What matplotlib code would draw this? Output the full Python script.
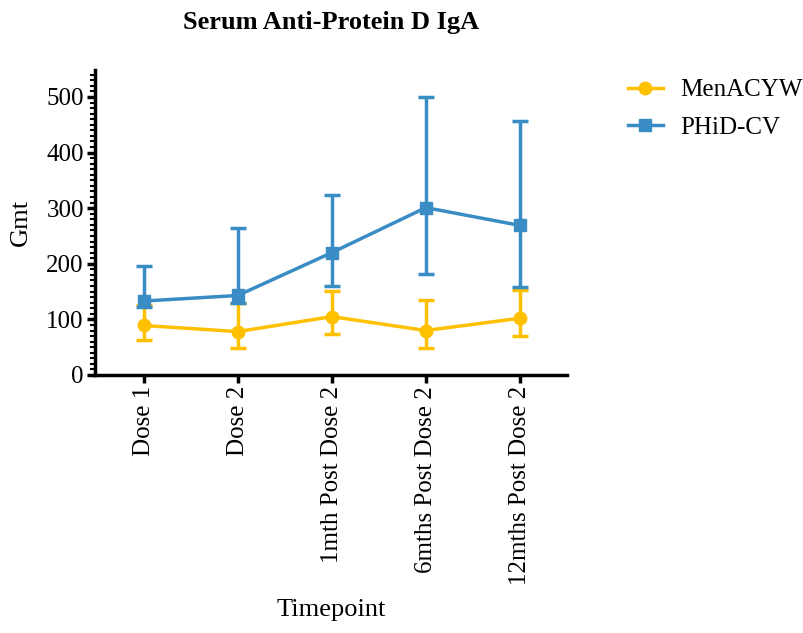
import matplotlib
matplotlib.use('Agg')
import numpy as np
import matplotlib.pyplot as plt
from matplotlib.ticker import MultipleLocator

plt.rcParams.update({
    'font.family': ['Liberation Serif', 'DejaVu Serif'],
    'font.size': 18,
})

timepoints = ['Dose 1', 'Dose 2', '1mth Post Dose 2', '6mths Post Dose 2', '12mths Post Dose 2']

men_gmt = [89, 78, 105, 80, 102]
men_low = [63, 48, 74, 48, 70]
men_high = [126, 129, 151, 134, 153]

phid_gmt = [133, 143, 220, 301, 269]
phid_low = [123, 130, 160, 181, 159]
phid_high = [196, 264, 323, 500, 457]

men_color = '#FFC000'
phid_color = '#3A8CC4'

fig = plt.figure(figsize=(8.04, 6.33), dpi=100)
ax = fig.add_axes([0.118, 0.4076, 0.587, 0.4814])

x = np.arange(len(timepoints))


def draw(vals, lo, hi, color, marker, label):
    vals = np.array(vals)
    yerr = [vals - np.array(lo), np.array(hi) - vals]
    ax.errorbar(x, vals, yerr=yerr, color=color, marker=marker, markersize=9,
                linewidth=2.5, elinewidth=2.5, capsize=6, capthick=2.5, label=label,
                clip_on=False)


draw(men_gmt, men_low, men_high, men_color, 'o', 'MenACYW')
draw(phid_gmt, phid_low, phid_high, phid_color, 's', 'PHiD-CV')

ax.set_xlim(-0.52, 4.5)
ax.set_ylim(0, 548)
ax.yaxis.set_major_locator(MultipleLocator(100))
ax.yaxis.set_minor_locator(MultipleLocator(10))
ax.set_xticks(x)
ax.set_xticklabels(timepoints, rotation=90)

for s in ['top', 'right']:
    ax.spines[s].set_visible(False)
for s in ['left', 'bottom']:
    ax.spines[s].set_linewidth(2.5)
ax.tick_params(axis='both', which='major', width=2.5, length=6, pad=2, labelsize=18)
ax.tick_params(axis='y', which='minor', width=1.5, length=3.5)

ax.set_ylabel('Gmt', fontsize=19, labelpad=10)
ax.set_xlabel('Timepoint', fontsize=19, labelpad=10)
ax.set_title('Serum Anti-Protein D IgA', fontsize=19, fontweight='bold', pad=30)

handles, labels = ax.get_legend_handles_labels()
handles = [h[0] for h in handles]
fig.legend(handles, labels, loc='upper left', bbox_to_anchor=(628 / 804, 1 - 79 / 633),
           frameon=False, fontsize=18, handlelength=1.4, handletextpad=0.7,
           labelspacing=0.6, borderpad=0, borderaxespad=0)

fig.savefig('out.png', dpi=100)
